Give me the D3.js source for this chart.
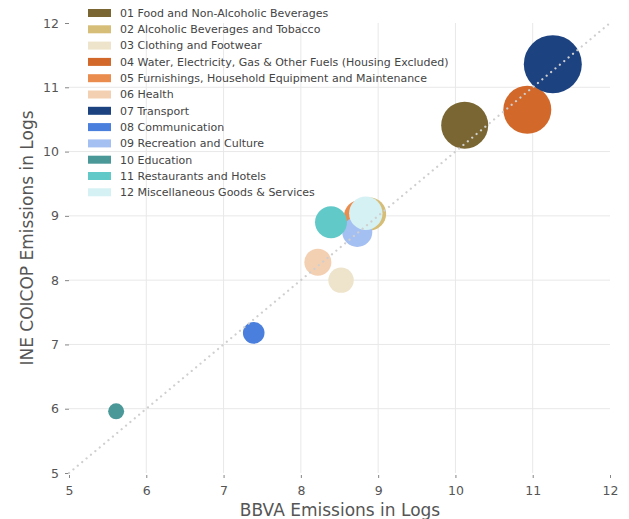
<!DOCTYPE html>
<html>
<head>
<meta charset="utf-8">
<script src="https://cdn.jsdelivr.net/npm/d3@7"></script>
<style>
  html, body { margin: 0; padding: 0; background: #fff; }
  svg { display: block; font-family: "DejaVu Sans", sans-serif; }
</style>
</head>
<body>
<svg id="chart" width="629" height="519"></svg>
<script>
// COICOP groups
const categories = [
  "01 Food and Non-Alcoholic Beverages",
  "02 Alcoholic Beverages and Tobacco",
  "03 Clothing and Footwear",
  "04 Water, Electricity, Gas & Other Fuels (Housing Excluded)",
  "05 Furnishings, Household Equipment and Maintenance",
  "06 Health",
  "07 Transport",
  "08 Communication",
  "09 Recreation and Culture",
  "10 Education",
  "11 Restaurants and Hotels",
  "12 Miscellaneous Goods & Services"
];
// log emissions, BBVA estimate (x) vs INE COICOP (y)
const bbvaLog = [10.12, 8.89, 8.52, 10.93, 8.77, 8.22, 11.26, 7.39, 8.73, 5.61, 8.39, 8.84];
const ineLog  = [10.41, 9.03, 8.00, 10.65, 8.99, 8.28, 11.36, 7.18, 8.75, 5.96, 8.90, 9.04];
// relative weight of each group, drives bubble area
const weight  = [65.7, 32.4, 19.2, 68.5, 32.4, 21.7, 100, 13.9, 26.8, 7.6, 30.4, 33.2];
const colors  = ["#7a6632", "#d6be78", "#ede4cb", "#d2692b", "#ea8c4d", "#f4d0b2",
                 "#1c4280", "#4a7fdd", "#a4bff1", "#4a9898", "#62c9c9", "#d6f1f3"];
const ticks = [5, 6, 7, 8, 9, 10, 11, 12];

const svg = d3.select("#chart");
const x = d3.scaleLinear().domain([5, 12]).range([69, 610]);
const y = d3.scaleLinear().domain([5, 12]).range([473, 23]);
const r = d3.scaleSqrt().domain([0, 100]).range([0, 29]);

// grid
const grid = svg.append("g");
grid.selectAll("line.gx").data(ticks.slice(1, -1)).join("line")
  .attr("x1", d => x(d)).attr("x2", d => x(d))
  .attr("y1", y(12)).attr("y2", y(5))
  .attr("stroke", "#e8e8e8").attr("stroke-width", 1);
grid.selectAll("line.gy").data(ticks.slice(1, -1)).join("line")
  .attr("y1", d => y(d)).attr("y2", d => y(d))
  .attr("x1", x(5)).attr("x2", x(12))
  .attr("stroke", "#e8e8e8").attr("stroke-width", 1);

// axes
const xAxis = svg.append("g").attr("transform", `translate(0,${y(5) + 2})`)
  .call(d3.axisBottom(x).tickValues(ticks).tickSize(3).tickPadding(8).tickFormat(d3.format("d")));
const yAxis = svg.append("g").attr("transform", `translate(${x(5)},0)`)
  .call(d3.axisLeft(y).tickValues(ticks).tickSize(4).tickPadding(6).tickFormat(d3.format("d")));
[xAxis, yAxis].forEach(a => {
  a.select(".domain").remove();
  a.selectAll(".tick line").attr("stroke", "#666").attr("stroke-width", 0.8);
  a.selectAll(".tick text").attr("fill", "#555").style("font-size", "12.5px")
    .style("font-family", "DejaVu Sans, sans-serif");
});

// bubbles
const idx = d3.range(categories.length);
svg.append("g").selectAll("circle").data(idx).join("circle")
  .attr("cx", i => x(bbvaLog[i]))
  .attr("cy", i => y(ineLog[i]))
  .attr("r", i => r(weight[i]))
  .attr("fill", i => colors[i]);

// 45-degree reference line
svg.append("line")
  .attr("x1", x(5)).attr("y1", y(5)).attr("x2", x(12)).attr("y2", y(12))
  .attr("stroke", "#cfcfcf").attr("stroke-width", 2.2)
  .attr("stroke-linecap", "round").attr("stroke-dasharray", "0.1 5.6");

// axis titles
svg.append("text").attr("x", 340).attr("y", 516).attr("text-anchor", "middle")
  .attr("fill", "#555").style("font-size", "17px").text("BBVA Emissions in Logs");
svg.append("text").attr("transform", "translate(33,238) rotate(-90)")
  .attr("text-anchor", "middle").attr("fill", "#555").style("font-size", "17px")
  .text("INE COICOP Emissions in Logs");

// legend
const legend = svg.append("g").attr("transform", "translate(88,13)");
const rows = legend.selectAll("g").data(idx).join("g")
  .attr("transform", i => `translate(0,${i * 16.3})`);
rows.append("rect").attr("x", 0).attr("y", -4).attr("width", 23).attr("height", 8)
  .attr("fill", i => colors[i]);
rows.append("text").attr("x", 32).attr("y", 0).attr("dy", "0.35em")
  .attr("fill", "#444").style("font-size", "11px").text(i => categories[i]);
</script>
</body>
</html>
